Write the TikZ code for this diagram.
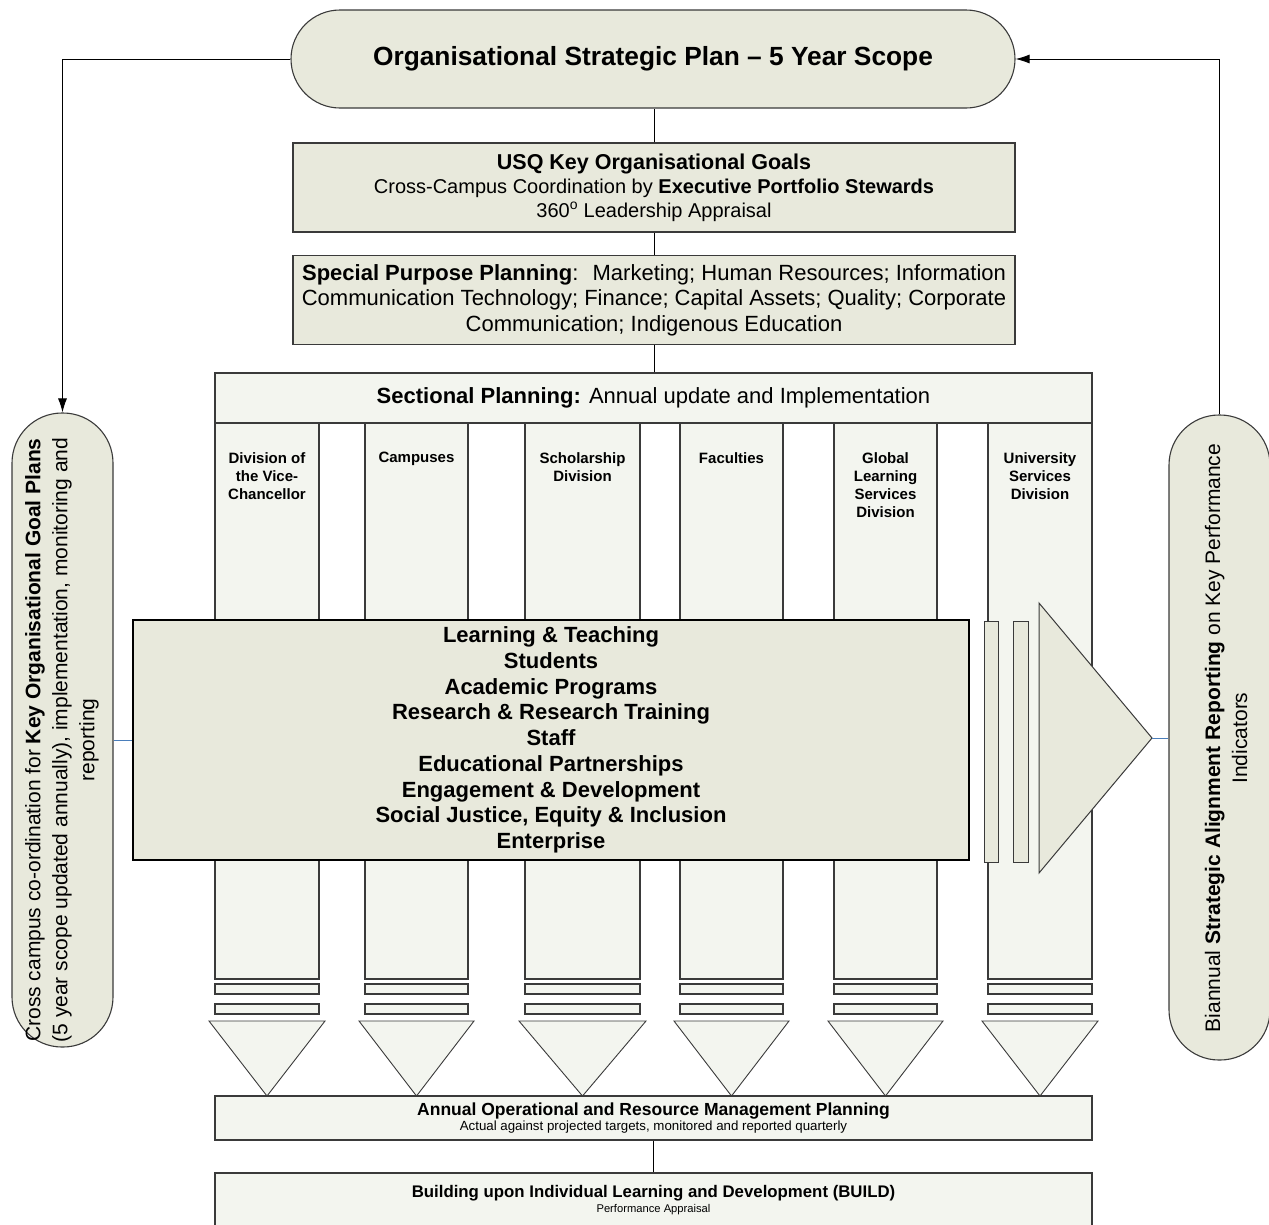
\documentclass[tikz,border=0pt]{standalone}
\usepackage{fontspec}
\setmainfont{Liberation Sans}
\usetikzlibrary{arrows.meta}

\definecolor{darkfill}{HTML}{E8E9DC}
\definecolor{lightfill}{HTML}{F3F5EF}
\definecolor{edge}{HTML}{3A3A3A}
\definecolor{linkblue}{HTML}{4A7EBB}

\newcommand{\fsz}[2]{\fontsize{#1}{#2}\selectfont}

\tikzset{
  box/.style={draw=edge, line width=1.1pt, fill=darkfill, align=center, inner sep=0pt},
  lightbox/.style={box, fill=lightfill},
  pill/.style={box, rounded corners=49pt},
  colpart/.style={draw=edge, line width=1.1pt, fill=lightfill},
  darkpart/.style={draw=edge, line width=1pt, fill=darkfill},
  colhead/.style={anchor=north, align=center, inner sep=0pt, font=\fsz{15}{18}\bfseries},
  link/.style={line width=0.9pt},
  bluelink/.style={draw=linkblue, line width=0.8pt},
  tip/.style={-{Latex[length=14pt, width=9pt]}}
}

\begin{document}
\begin{tikzpicture}[x=1pt, y=-1pt]
        \useasboundingbox (0,0) rectangle (1269,1224);

        \foreach \l/\r/\n/\txt in {215/319/dvc/{Division of\\the Vice-\\Chancellor}, 365/468/cmp/Campuses, 525/640/sch/{Scholarship\\Division}, 680/783/fac/Faculties, 834/937/gls/{Global\\Learning\\Services\\Division}, 988/1092/usd/{University\\Services\\Division}} {
            \draw[colpart] (\l,423) rectangle (\r,979);
            \draw[colpart] (\l,984) rectangle (\r,994);
            \draw[colpart] (\l,1004) rectangle (\r,1014);
            \draw[colpart, line width=0.9pt] (\l-6,1021) -- (\r+6,1021) -- ({(\l+\r)/2},1096) -- cycle;
            \node[colhead] (\n) at ({(\l+\r)/2},452) {\txt};
        }

        \node[lightbox, minimum width=877, minimum height=50, font=\fsz{22}{26}] (sect) at (653.5,398) {\textbf{Sectional Planning:} Annual update and Implementation};

        \node[box, draw=black, minimum width=836, minimum height=240, font=\fsz{22}{25.75}\bfseries] (core) at (551,740) {Learning \& Teaching\\Students\\Academic Programs\\Research \& Research Training\\Staff\\Educational Partnerships\\Engagement \& Development\\Social Justice, Equity \& Inclusion\\Enterprise};

        \draw[darkpart] (984,621) rectangle (998,862);
        \draw[darkpart] (1013,621) rectangle (1028,862);
        \draw[darkpart] (1039,603) -- (1152,738) -- (1039,873) -- cycle;
        \coordinate (apex) at (1152,738);

        \node[pill, minimum width=724, minimum height=98, font=\fsz{26.3}{30}\bfseries] (plan) at (653,59) {Organisational Strategic Plan -- 5 Year Scope};

        \node[box, minimum width=722, minimum height=89, font=\fsz{20}{24}] (usq) at (654,187.5) {{\fsz{21.5}{24}\bfseries USQ Key Organisational Goals}\\Cross-Campus Coordination by \textbf{Executive Portfolio Stewards}\\360\textsuperscript{o} Leadership Appraisal};

        \node[box, minimum width=722, minimum height=89, font=\fsz{22}{25.5}] (spp) at (654,300) {\textbf{Special Purpose Planning}:~ Marketing; Human Resources; Information\\Communication Technology; Finance; Capital Assets; Quality; Corporate\\Communication; Indigenous Education};

        \node[pill, rounded corners=50pt, minimum width=101, minimum height=634] (goalplans) at (62.5,730) {};
        \node[rotate=90, align=center, font=\fsz{21}{27}] (goaltext) at (62,740) {Cross campus co-ordination for \textbf{Key Organisational Goal Plans}\\(5 year scope updated annually), implementation, monitoring and\\reporting};

        \node[pill, rounded corners=50pt, minimum width=101, minimum height=645] (kpi) at (1219.5,737.5) {};
        \node[rotate=90, align=center, font=\fsz{21}{27}] (kpitext) at (1226,738) {Biannual \textbf{Strategic Alignment Reporting} on Key Performance\\Indicators};

        \node[lightbox, minimum width=877, minimum height=44, font=\fsz{17.5}{15}] (annual) at (653.5,1118) {\textbf{Annual Operational and Resource Management Planning}\\{\fsz{13.3}{15}Actual against projected targets, monitored and reported quarterly}};

        \node[lightbox, minimum width=877, minimum height=54, font=\fsz{16.8}{15}] (build) at (653.5,1200) {\textbf{Building upon Individual Learning and Development (BUILD)}\\{\fsz{11.2}{15}Performance Appraisal}};

        \draw[link] (usq.north) -- (usq.north |- plan.south);
        \draw[link] (usq.south) -- (usq.south |- spp.north);
        \draw[link] (spp.south) -- (spp.south |- sect.north);
        \draw[link] (annual.south) -- (build.north);
        \draw[link, tip] (plan.west) -| (goalplans.north);
        \draw[link, tip] (kpi.north) |- (plan.east);
        \draw[bluelink] (goalplans.east |- core.west) -- (core.west);
        \draw[bluelink] (apex) -- (apex -| kpi.west);
\end{tikzpicture}
\end{document}
